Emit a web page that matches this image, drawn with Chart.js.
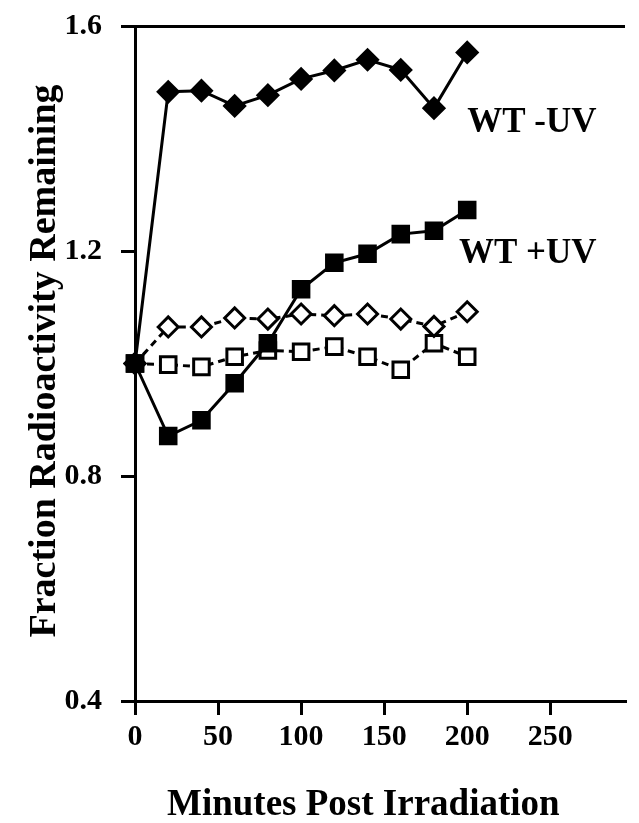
<!DOCTYPE html>
<html>
<head>
<meta charset="utf-8">
<script src="https://cdn.jsdelivr.net/npm/chart.js@4.4.1/dist/chart.umd.min.js"></script>
<style>
  html, body { margin: 0; padding: 0; background: #fff; }
  #wrap { width: 639px; height: 823px; }
</style>
</head>
<body>
<div id="wrap"><canvas id="chart" width="639" height="823"></canvas></div>
<script>
// time points (minutes post irradiation)
const minutes = [0, 20, 40, 60, 80, 100, 120, 140, 160, 180, 200];

// fraction radioactivity remaining
const wtMinusUV = [1.0, 1.483, 1.485, 1.458, 1.477, 1.506, 1.521, 1.540, 1.522, 1.454, 1.553];
const wtPlusUV = [1.0, 0.871, 0.899, 0.965, 1.036, 1.132, 1.179, 1.195, 1.230, 1.236, 1.273];
const openDiamond = [1.0, 1.065, 1.065, 1.081, 1.079, 1.088, 1.085, 1.088, 1.079, 1.066, 1.092];
const openSquare = [1.0, 0.998, 0.994, 1.012, 1.023, 1.021, 1.030, 1.012, 0.989, 1.036, 1.012];

const yTicks = [0.4, 0.8, 1.2, 1.6];
const xTicks = [0, 50, 100, 150, 200, 250];

const xTitle = 'Minutes Post Irradiation';
const yTitle = 'Fraction Radioactivity Remaining';
const labelMinus = { text: 'WT -UV', x: 200, y: 1.412 };
const labelPlus = { text: 'WT +UV', x: 195, y: 1.179 };

const FONT = '"Liberation Serif", "Times New Roman", serif';

function pts(ys) {
    return minutes.map((m, i) => ({ x: m, y: ys[i] }));
}

function series(label, ys, shape, filled, dashed) {
    return {
        label: label,
        data: pts(ys),
        borderColor: '#000',
        backgroundColor: filled ? '#000' : '#fff',
        borderWidth: 3,
        borderDash: dashed ? [7, 5] : [],
        pointStyle: shape,
        pointRadius: shape === 'rectRot' ? 10 : 11,
        pointBorderWidth: 3,
        pointBackgroundColor: filled ? '#000' : '#fff',
        pointBorderColor: '#000',
        tension: 0,
        clip: false,
    };
}

// axis titles and in-plot labels
const textPlugin = {
    id: 'texts',
    afterDraw(chart) {
        const ctx = chart.ctx;
        const xs = chart.scales.x, ys = chart.scales.y;
        ctx.save();
        ctx.fillStyle = '#000';
        ctx.textBaseline = 'alphabetic';
        ctx.textAlign = 'left';

        ctx.font = 'bold 35px ' + FONT;
        ctx.fillText(labelMinus.text, xs.getPixelForValue(labelMinus.x), ys.getPixelForValue(labelMinus.y));
        ctx.fillText(labelPlus.text, xs.getPixelForValue(labelPlus.x), ys.getPixelForValue(labelPlus.y));

        ctx.font = 'bold 37px ' + FONT;
        ctx.fillText(xTitle, 167, 815);

        ctx.font = 'bold 38px ' + FONT;
        ctx.translate(55, 361);
        ctx.rotate(-Math.PI / 2);
        ctx.textAlign = 'center';
        ctx.fillText(yTitle, 0, 0);
        ctx.restore();
    }
};

const ctx = document.getElementById('chart').getContext('2d');
new Chart(ctx, {
    type: 'line',
    data: {
        datasets: [
            series('WT -UV', wtMinusUV, 'rectRot', true, false),
            series('WT +UV', wtPlusUV, 'rect', true, false),
            series('open diamond', openDiamond, 'rectRot', false, true),
            series('open square', openSquare, 'rect', false, true),
        ],
    },
    options: {
        responsive: false,
        animation: false,
        devicePixelRatio: 1,
        layout: { padding: { top: 26, right: 0, left: 0, bottom: 0 } },
        plugins: {
            legend: { display: false },
            tooltip: { enabled: false },
        },
        scales: {
            x: {
                type: 'linear',
                min: 0,
                max: 295,
                afterBuildTicks: (axis) => { axis.ticks = xTicks.map(v => ({ value: v })); },
                afterFit: (axis) => {
                    axis.height = 122;
                    axis.paddingLeft = 0;
                    axis.paddingRight = 0;
                },
                border: { display: true, color: '#000', width: 3 },
                grid: { display: true, drawOnChartArea: false, color: '#000', tickColor: '#000', tickLength: 14, lineWidth: 3 },
                ticks: {
                    color: '#000',
                    padding: 4,
                    maxRotation: 0,
                    font: { family: FONT, size: 30, weight: 'bold' },
                },
            },
            y: {
                min: 0.4,
                max: 1.6,
                afterBuildTicks: (axis) => { axis.ticks = yTicks.map(v => ({ value: v })); },
                afterFit: (axis) => {
                    axis.width = 135;
                    axis.paddingTop = 0;
                    axis.paddingBottom = 0;
                },
                border: { display: true, color: '#000', width: 3 },
                grid: {
                    display: true,
                    drawOnChartArea: true,
                    color: (c) => (c.tick && c.tick.value === 1.6 ? '#000' : 'rgba(0,0,0,0)'),
                    tickColor: '#000',
                    tickLength: 14,
                    lineWidth: 3,
                },
                ticks: {
                    color: '#000',
                    padding: 19,
                    callback: (v) => v.toFixed(1),
                    font: { family: FONT, size: 30, weight: 'bold' },
                },
            },
        },
    },
    plugins: [textPlugin],
});
</script>
</body>
</html>
